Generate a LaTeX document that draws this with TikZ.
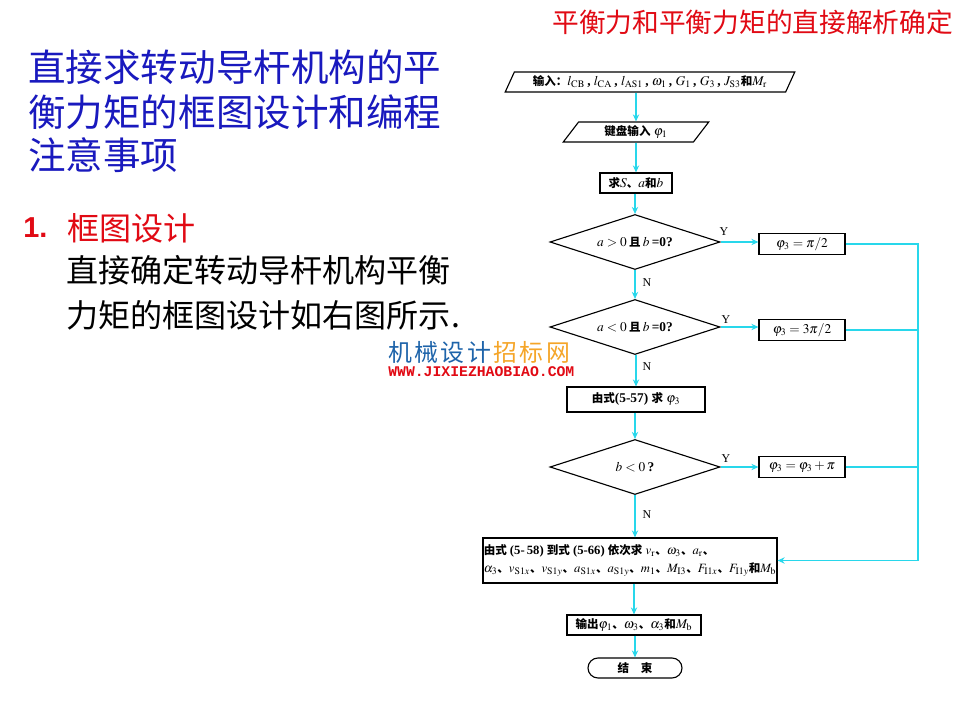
\documentclass[tikz,border=0pt]{standalone}
\usepackage{mathptmx}
\usepackage{fontspec}
\setmainfont{Liberation Serif}
\newfontfamily\cjk{Noto Sans CJK SC}
\newfontfamily\lsans{Liberation Sans}
\newfontfamily\lmono{Liberation Mono}
\usetikzlibrary{shapes.geometric,arrows.meta}
\newcommand\zh[1]{{\cjk\bfseries\fontsize{8.2}{11.5}\selectfont #1}}
\newcommand\ff{\fontsize{9.5}{12.5}\selectfont\bfseries}
\definecolor{flowc}{RGB}{40,215,235}
\definecolor{ttlblue}{RGB}{25,25,190}
\definecolor{ttlred}{RGB}{225,10,20}
\definecolor{wmblue}{RGB}{30,100,170}
\definecolor{wmorange}{RGB}{245,165,40}
\tikzset{
  txt/.style={anchor=west, inner sep=0pt},
  procbox/.style={draw, line width=0.8pt, rectangle, inner sep=0pt, font=\ff, align=center},
  iobox/.style={draw, line width=0.8pt, trapezium, trapezium left angle=57, trapezium right angle=123,
    trapezium stretches=true, inner sep=0pt, font=\ff, minimum height=0.5cm},
  decbox/.style={draw, line width=0.8pt, diamond, aspect=3.1, inner sep=0pt, minimum width=4.25cm, minimum height=1.375cm, font=\ff},
  termbox/.style={draw, line width=0.8pt, rectangle, rounded corners=0.25cm, inner sep=0pt, font=\ff,
    minimum width=2.35cm, minimum height=0.5cm},
  flowarr/.style={draw=flowc, line width=1pt, -{Stealth[length=5pt,width=4.5pt]}},
  flowline/.style={draw=flowc, line width=1pt},
  yn/.style={inner sep=0pt, font=\fontsize{8.5}{10}\selectfont}
}
\begin{document}
\begin{tikzpicture}[x=0.025cm,y=-0.025cm]
\useasboundingbox[fill=white] (0,0) rectangle (960,720);

% slide text
\node[txt, text=ttlred, font=\cjk\fontsize{19}{22}\selectfont] (hdr) at (552,22) {平衡力和平衡力矩的直接解析确定};
\node[txt, text=ttlblue, font=\cjk\fontsize{26.7}{30}\selectfont] (t1) at (28,67) {直接求转动导杆机构的平};
\node[txt, text=ttlblue, font=\cjk\fontsize{26.7}{30}\selectfont] (t2) at (28,112) {衡力矩的框图设计和编程};
\node[txt, text=ttlblue, font=\cjk\fontsize{26.7}{30}\selectfont] (t3) at (28,155) {注意事项};
\node[txt, text=ttlred, font=\lsans\bfseries\fontsize{20.5}{24}\selectfont] (num) at (23,228) {1.};
\node[txt, text=ttlred, font=\cjk\fontsize{22.8}{26}\selectfont] (sec) at (67,228) {框图设计};
\node[txt, font=\cjk\fontsize{22.8}{26}\selectfont] (p1) at (66,270) {直接确定转动导杆机构平衡};
\node[txt, font=\cjk\fontsize{22.8}{26}\selectfont] (p2) at (66,315) {力矩的框图设计如右图所示.};

% site mark
\node[txt, font=\cjk\fontsize{17}{20}\selectfont] (wm) at (388,352)
  {\textcolor{wmblue}{机\hspace{0.06cm}械\hspace{0.06cm}设\hspace{0.06cm}计}\hspace{0.06cm}\textcolor{wmorange}{招\hspace{0.06cm}标\hspace{0.06cm}网}};
\node[txt, text=ttlred, font=\lmono\bfseries\fontsize{10.5}{12}\selectfont] (url) at (388,372) {WWW.JIXIEZHAOBIAO.COM};

% flowchart nodes
\node[iobox, minimum width=7.25cm] (inp) at (650,82)
  {\zh{输入：}$l_{\mathrm{CB}}$\,, $l_{\mathrm{CA}}$\,, $l_{\mathrm{AS1}}$\,, $\omega_1$\,, $G_1$\,, $G_3$\,, $J_{\mathrm{S3}}$\zh{和}$M_{\mathrm{r}}$};
\node[iobox, minimum width=3.65cm] (kb) at (636,132) {\zh{键盘输入}\ $\varphi_1$};
\node[procbox, minimum width=1.8cm, minimum height=0.5cm] (sab) at (636,183) {\zh{求}$S$\zh{、}$a$\zh{和}$b$};
\node[decbox] (d1) at (635,242) {$a>0$\,\zh{且}\,$b$\,=0?};
\node[procbox, minimum width=2.15cm, minimum height=0.525cm] (r1) at (802,244) {$\varphi_3=\pi/2$};
\node[decbox] (d2) at (635,327) {$a<0$\,\zh{且}\,$b$\,=0?};
\node[procbox, minimum width=2.15cm, minimum height=0.525cm] (r2) at (802,330) {$\varphi_3=3\pi/2$};
\node[procbox, minimum width=3.45cm, minimum height=0.625cm] (e57) at (636,399.5) {\zh{由式}(5-57)\ \zh{求}\ $\varphi_3$};
\node[decbox] (d3) at (635,467) {$b<0$\,?};
\node[procbox, minimum width=2.15cm, minimum height=0.525cm] (r3) at (802,467) {$\varphi_3=\varphi_3+\pi$};
\node[procbox, minimum width=7.35cm, minimum height=1.125cm, align=left, font=\fontsize{9}{12.5}\selectfont\bfseries] (big) at (630,560.5)
  {\zh{由式}\ (5-\,58)\ \zh{到式}\ (5-66)\ \zh{依次求}\ $v_{\mathrm{r}}$\zh{、}$\omega_3$\zh{、}$a_{\mathrm{r}}$\zh{、}\\
   $\alpha_3$\zh{、}$v_{\mathrm{S1}x}$\zh{、}$v_{\mathrm{S1}y}$\zh{、}$a_{\mathrm{S1}x}$\zh{、}$a_{\mathrm{S1}y}$\zh{、}$m_1$\zh{、}$M_{\mathrm{I3}}$\zh{、}$F_{\mathrm{I1}x}$\zh{、}$F_{\mathrm{I1}y}$\zh{和}$M_{\mathrm{b}}$};
\node[procbox, minimum width=3.35cm, minimum height=0.5cm] (outp) at (634,625)
  {\zh{输出}$\varphi_1$\zh{、}$\omega_3$\zh{、}$\alpha_3$\zh{和}$M_{\mathrm{b}}$};
\node[termbox] (fin) at (635,668) {\zh{结\quad 束}};
\coordinate (bus) at (918,244);

% connectors
\draw[flowarr] (kb.north |- inp.south) -- (kb.north);
\draw[flowarr] (kb.south -| sab.north) -- (sab.north);
\draw[flowarr] (sab.south -| d1.north) -- (d1.north);
\draw[flowarr] (d1.south) -- (d2.north);
\draw[flowarr] (d2.south -| e57.north) -- (e57.north);
\draw[flowarr] (e57.south -| d3.north) -- (d3.north);
\draw[flowarr] (d3.south) -- (d3.south |- big.north);
\draw[flowarr] (big.south -| outp.north) -- (outp.north);
\draw[flowarr] (outp.south -| fin.north) -- (fin.north);
\draw[flowarr] (d1.east) -- (r1.west |- d1.east);
\draw[flowarr] (d2.east) -- (r2.west |- d2.east);
\draw[flowarr] (d3.east) -- (r3.west |- d3.east);
\draw[flowline] (r2.east) -- (r2.east -| bus);
\draw[flowline] (r3.east) -- (r3.east -| bus);
\draw[flowarr] (r1.east) -- (bus) -- (bus |- big.east) -- (big.east);

% branch labels
\node[yn] (y1) at (724,232) {Y};
\node[yn] (y2) at (726,320) {Y};
\node[yn] (y3) at (726,459) {Y};
\node[yn] (n1) at (647,283) {N};
\node[yn] (n2) at (647,367) {N};
\node[yn] (n3) at (647,515) {N};
\end{tikzpicture}
\end{document}
